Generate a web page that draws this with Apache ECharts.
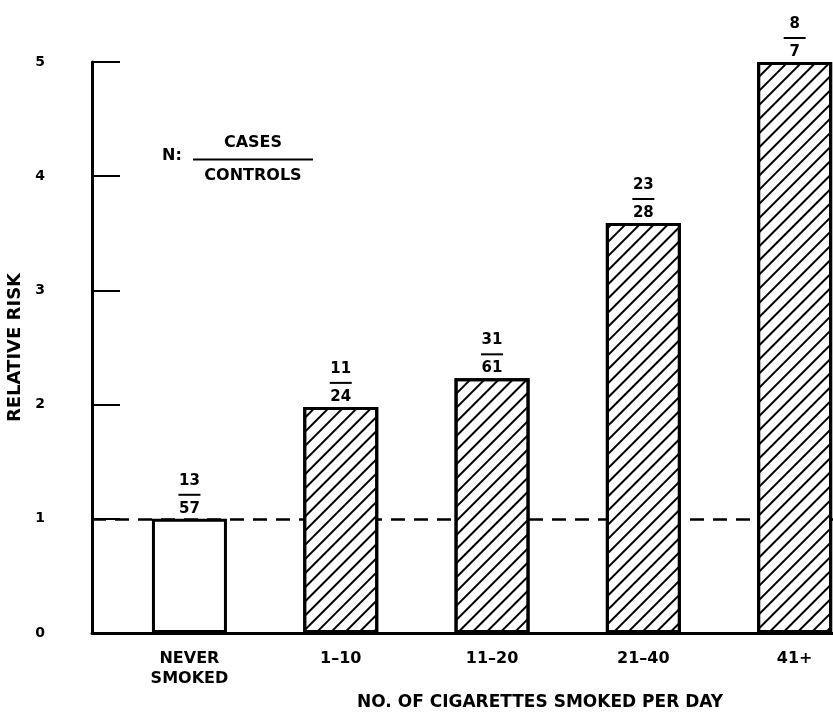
<!DOCTYPE html>
<html>
<head>
<meta charset="utf-8">
<script src="https://cdn.jsdelivr.net/npm/echarts@6/dist/echarts.min.js"></script>
<style>
html,body{margin:0;padding:0;background:#fff;}
#chart{width:833px;height:715px;}
</style>
</head>
<body>
<div id="chart"></div>
<script>
// ---- data ----
const categories = ['NEVER\nSMOKED', '1\u201310', '11\u201320', '21\u201340', '41+'];
const relativeRisk = [1.0, 1.98, 2.23, 3.59, 5.0];
const cases = [13, 11, 31, 23, 8];
const controls = [57, 24, 61, 28, 7];
const yTicks = [0, 1, 2, 3, 4, 5];
const referenceRisk = 1;

const FONT = '"DejaVu Sans", "Liberation Sans", Arial, sans-serif';

const hatch = {
  symbol: 'rect',
  symbolSize: 1,
  dashArrayX: [1, 0],
  dashArrayY: [2, 7.5],
  rotation: -Math.PI / 4,
  color: '#000'
};

const barData = relativeRisk.map((v, i) => ({
  value: v,
  itemStyle: {
    color: '#fff',
    borderColor: '#000',
    borderWidth: 3,
    decal: i === 0 ? null : hatch
  }
}));

const chart = echarts.init(document.getElementById('chart'), null, {renderer: 'canvas'});
chart.setOption({
  backgroundColor: '#fff',
  animation: false,
  aria: {enabled: false},
  textStyle: {fontFamily: FONT, color: '#000'},
  title: [
    {text: 'N:', left: 157, top: 143,
     textStyle: {fontFamily: FONT, fontSize: 16, fontWeight: 'bold', color: '#000'}},
    {text: '{c|CASES}\n{l| }\n{c|CONTROLS}', left: 188, top: 129,
     textStyle: {
       fontFamily: FONT, color: '#000',
       rich: {
         c: {fontFamily: FONT, fontSize: 16, fontWeight: 'bold', lineHeight: 18, align: 'center', width: 120},
         l: {width: 120, height: 2, lineHeight: 15, backgroundColor: '#000', fontSize: 1, align: 'center'}
       }
     }}
  ],
  grid: [
    {left: 92, right: 0, top: 62, bottom: 82, outerBoundsMode: 'none', containLabel: false},
    {left: 113.8, width: 756.5, top: 62, bottom: 82, outerBoundsMode: 'none', containLabel: false}
  ],
  xAxis: [
    {type: 'value', gridIndex: 0, min: 0, max: 1,
     axisLine: {show: true, lineStyle: {color: '#000', width: 3}},
     axisTick: {show: false}, axisLabel: {show: false}, splitLine: {show: false}},
    {type: 'category', gridIndex: 1, data: categories,
     axisLine: {show: false}, axisTick: {show: false},
     axisLabel: {fontFamily: FONT, fontSize: 16, fontWeight: 'bold', color: '#000', margin: 16, lineHeight: 20},
     name: 'NO. OF CIGARETTES SMOKED PER DAY', nameLocation: 'middle', nameGap: 44,
     nameTextStyle: {fontFamily: FONT, fontSize: 17, fontWeight: 'bold', color: '#000', padding: [0, 0, 0, 96]}}
  ],
  yAxis: [
    {type: 'value', gridIndex: 0, min: yTicks[0], max: yTicks[yTicks.length - 1], interval: 1,
     axisLine: {show: true, lineStyle: {color: '#000', width: 3}},
     axisTick: {show: true, inside: true, length: 28, lineStyle: {color: '#000', width: 2}},
     axisLabel: {fontFamily: FONT, fontSize: 14, fontWeight: 'bold', color: '#000', margin: 47},
     splitLine: {show: false},
     name: 'RELATIVE RISK', nameLocation: 'middle', nameGap: 54, nameRotate: 90,
     nameTextStyle: {fontFamily: FONT, fontSize: 18, fontWeight: 'bold', color: '#000'}},
    {type: 'value', gridIndex: 1, min: yTicks[0], max: yTicks[yTicks.length - 1], show: false}
  ],
  series: [
    {type: 'line', xAxisIndex: 0, yAxisIndex: 0, data: [], z: 1,
     markLine: {silent: true, symbol: 'none', label: {show: false},
       lineStyle: {color: '#000', width: 2.5, type: [14, 9]},
       data: [{yAxis: referenceRisk}]}},
    {type: 'bar', xAxisIndex: 1, yAxisIndex: 1, data: barData, barWidth: 75, z: 5,
     label: {show: true, position: 'top', distance: 1,
       formatter: p => '{n|' + cases[p.dataIndex] + '}\n{l| }\n{n|' + controls[p.dataIndex] + '}',
       rich: {
         n: {fontFamily: FONT, fontSize: 15, fontWeight: 'bold', color: '#000', lineHeight: 18, align: 'center'},
         l: {width: 22, height: 2, lineHeight: 10, backgroundColor: '#000', fontSize: 1, align: 'center'}
       }}}
  ]
});
</script>
</body>
</html>
